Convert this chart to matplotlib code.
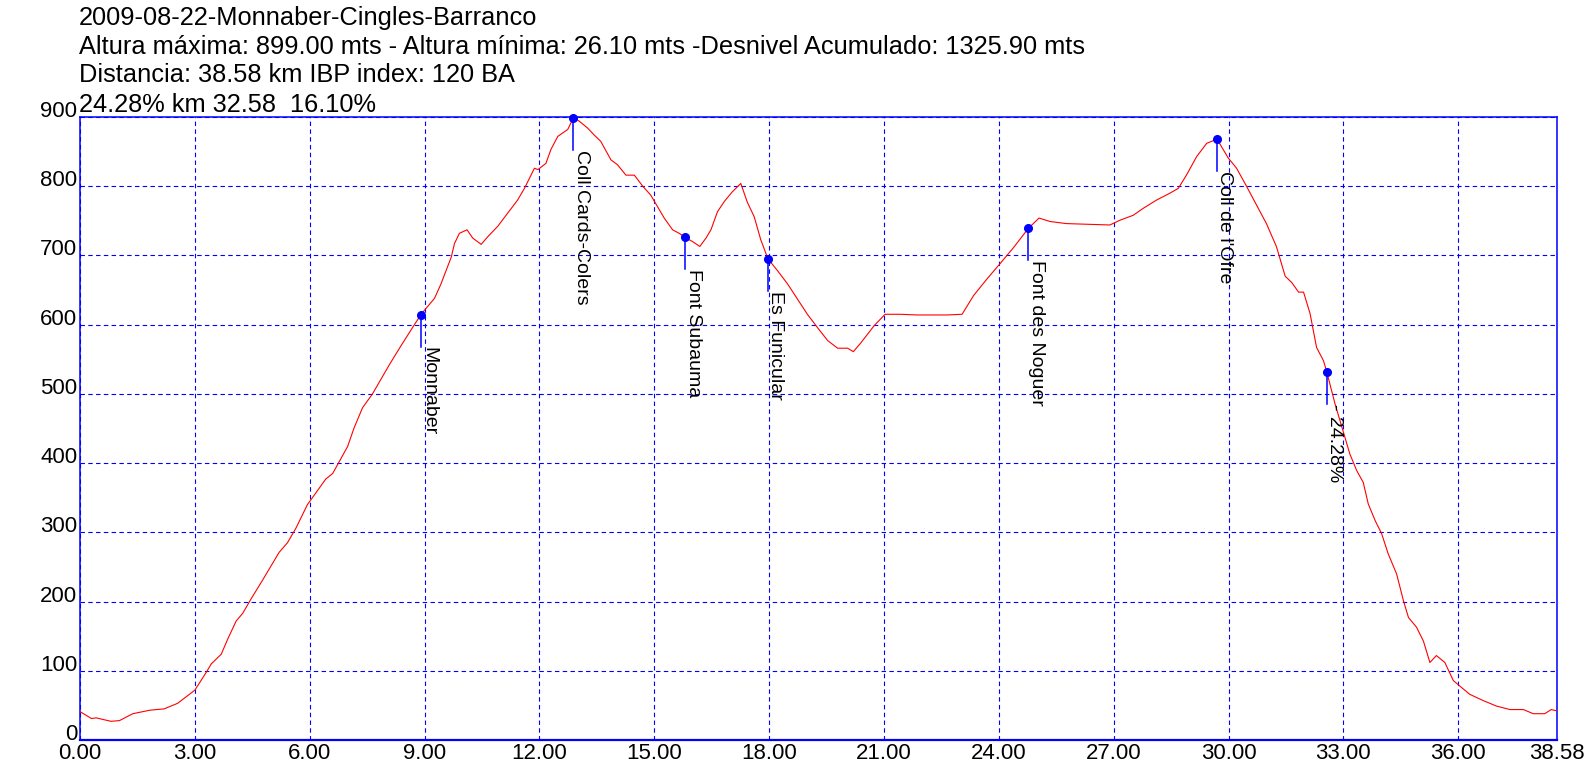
import matplotlib
matplotlib.use("Agg")
import matplotlib.pyplot as plt

plt.rcParams['font.family'] = ['Liberation Sans', 'DejaVu Sans']

# elevation profile (km, m)
dist_km = [0.00, 0.30, 0.42, 0.81, 1.03, 1.38, 1.82, 2.20, 2.55, 3.00,
           3.30, 3.43, 3.69, 3.86, 4.08, 4.25, 4.47, 4.77, 5.03, 5.20,
           5.42, 5.64, 5.94, 6.16, 6.42, 6.60, 6.77, 6.99, 7.16, 7.38,
           7.64, 7.86, 8.09, 8.39, 8.70, 8.90, 9.00, 9.26, 9.43, 9.70,
           9.78, 9.91, 10.11, 10.26, 10.48, 10.65, 10.91, 11.17, 11.43, 11.61,
           11.87, 11.96, 12.17, 12.30, 12.48, 12.74, 12.89, 13.04, 13.26, 13.43,
           13.60, 13.87, 14.04, 14.26, 14.48, 14.70, 14.91, 15.09, 15.26, 15.48,
           15.65, 15.81, 16.00, 16.19, 16.35, 16.48, 16.65, 16.83, 17.04, 17.26,
           17.43, 17.61, 17.78, 17.97, 18.22, 18.48, 18.74, 19.00, 19.26, 19.53,
           19.79, 20.05, 20.20, 20.40, 20.75, 21.03, 21.43, 21.87, 22.30, 22.65,
           23.04, 23.34, 23.69, 24.03, 24.38, 24.77, 25.05, 25.34, 25.77, 26.30,
           26.90, 27.17, 27.51, 27.77, 28.12, 28.47, 28.69, 28.90, 29.17, 29.43,
           29.70, 29.99, 30.21, 30.47, 30.73, 30.99, 31.25, 31.48, 31.65, 31.83,
           31.96, 32.13, 32.30, 32.48, 32.57, 32.78, 33.00, 33.17, 33.35, 33.52,
           33.65, 33.83, 34.00, 34.17, 34.39, 34.57, 34.70, 34.91, 35.09, 35.26,
           35.43, 35.65, 35.87, 36.04, 36.30, 36.65, 37.00, 37.35, 37.70, 37.96,
           38.26, 38.43, 38.58]
elev_m = [41, 31, 32, 27, 28, 38, 43, 45, 53, 72,
          98, 110, 124, 146, 172, 183, 204, 231, 255, 271,
          285, 306, 340, 357, 377, 385, 402, 424, 451, 480,
          500, 521, 543, 570, 597, 614, 621, 638, 659, 698,
          717, 732, 737, 725, 716, 727, 742, 761, 780, 797,
          826, 824, 833, 853, 872, 882, 899, 894, 884, 874,
          865, 838, 831, 816, 816, 800, 787, 770, 754, 737,
          732, 726, 720, 713, 725, 737, 763, 778, 792, 804,
          777, 756, 723, 695, 678, 659, 637, 615, 596, 577,
          566, 566, 561, 574, 599, 615, 615, 614, 614, 614,
          615, 642, 666, 688, 711, 739, 754, 749, 746, 745,
          744, 751, 758, 768, 780, 790, 797, 816, 843, 862,
          868, 841, 826, 800, 773, 746, 713, 670, 661, 647,
          647, 616, 567, 548, 531, 486, 445, 413, 389, 372,
          341, 317, 298, 269, 240, 201, 177, 163, 143, 112,
          122, 112, 86, 78, 66, 57, 49, 44, 44, 38,
          38, 44, 42]

# waypoints
wp_names = ["Monnaber", "Coll Cards-Colers", "Font Subauma", "Es Funicular",
            "Font des Noguer", "Coll de l'Ofre", "- 24.28%"]
wp_km = [8.90, 12.89, 15.81, 17.97, 24.77, 29.70, 32.57]
wp_elev = [614, 898, 726, 695, 739, 868, 531]

title_lines = [
    "2009-08-22-Monnaber-Cingles-Barranco",
    "Altura máxima: 899.00 mts - Altura mínima: 26.10 mts -Desnivel Acumulado: 1325.90 mts",
    "Distancia: 38.58 km IBP index: 120 BA",
    "24.28% km 32.58  16.10%",
]
x_ticks = [0, 3, 6, 9, 12, 15, 18, 21, 24, 27, 30, 33, 36, 38.58]
y_ticks = [0, 100, 200, 300, 400, 500, 600, 700, 800, 900]

W, H = 1596, 778
fig = plt.figure(figsize=(W / 100, H / 100), dpi=100)
ax = fig.add_axes([80 / W, (H - 740) / H, 1477 / W, 623 / H])

ax.plot(dist_km, elev_m, color='red', lw=0.8, zorder=3)

ax.set_xlim(0, 38.58)
ax.set_ylim(0, 900)
ax.set_xticks(x_ticks)
ax.set_xticklabels([f"{v:.2f}" for v in x_ticks])
ax.set_yticks(y_ticks)
ax.set_yticklabels([str(v) for v in y_ticks])
ax.tick_params(length=0, labelsize=16, colors='black')
ax.tick_params(axis='x', pad=2)
ax.tick_params(axis='y', pad=2)
for lab in ax.get_yticklabels():
    lab.set_verticalalignment('baseline')

ax.grid(True, color='blue', lw=0.8, linestyle=(0, (4, 3)))
for s in ax.spines.values():
    s.set_color('blue')
    s.set_linewidth(1.1)
ax.spines['bottom'].set_linewidth(1.6)

# waypoint markers with stems and rotated labels
stem = 32 * 900 / 623
for name, x, y in zip(wp_names, wp_km, wp_elev):
    ax.plot([x, x], [y, y - stem], color='blue', lw=1.1, zorder=4)
    ax.plot([x], [y], 'o', color='blue', ms=5.5, zorder=5, clip_on=False)
    ax.text(x - 0.02, y - stem, name, rotation=270, ha='left', va='top',
            fontsize=14, color='black', zorder=5)

baselines = [25, 53.5, 82, 111.5]
for line, b in zip(title_lines, baselines):
    fig.text(79 / W, 1 - b / H, line, fontsize=18.3, va='baseline', ha='left')

fig.savefig("out.png", dpi=100, facecolor='white')
